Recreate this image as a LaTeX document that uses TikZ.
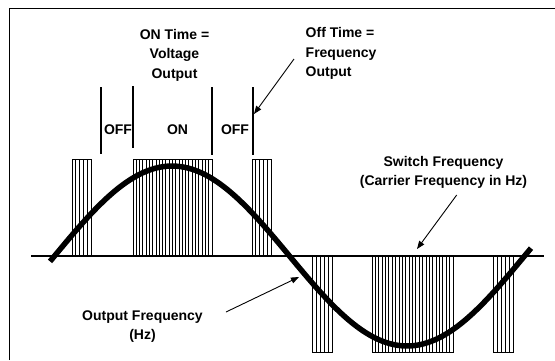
\documentclass[tikz,border=0pt]{standalone}
\usepackage{fontspec}
\setmainfont{Liberation Sans}
\usetikzlibrary{arrows.meta}
\newcommand{\pwmblock}[4]{%
  \draw[pulse] (#1,256) rectangle (#2,#3);
  \pgfmathsetmacro\pwmdx{(#2-#1)/#4}
  \foreach \i in {1,...,#4}{\draw[pulse] ({#1+\i*\pwmdx},256) -- ({#1+\i*\pwmdx},#3);}
}
\begin{document}
\begin{tikzpicture}[x=1pt,y=-1pt,
  lbl/.style={font=\fontsize{14}{19.5}\selectfont\bfseries, inner sep=0pt},
  arr/.style={-{Triangle[length=8pt,width=6pt]}, line width=0.9pt},
  pulse/.style={line width=1pt},
  marker/.style={line width=1.6pt},
  sine/.style={line width=5.5pt}]
\useasboundingbox (0,0) rectangle (555,360);
\fill[white] (0,0) rectangle (555,360);
% frame
\draw[line width=1.8pt] (9.5,360) -- (9.5,8.5) -- (555,8.5);
% baseline
\draw[line width=1.2pt] (31,256) -- (544,256);
% pulse blocks
\pwmblock{72}{91}{159}{5}
\pwmblock{133}{212}{159}{24}
\pwmblock{252}{271}{159}{5}
\pwmblock{312}{332}{352}{5}
\pwmblock{372}{453}{352}{24}
\pwmblock{493}{513}{352}{5}
% sine
\draw[sine] plot[domain=50:531, samples=120, smooth] (\x, {256-90*sin((\x-54.5)/235*180)});
% markers
\draw[marker] (100.7,87) -- (100.7,154);
\draw[marker] (132.7,86) -- (132.7,148);
\draw[marker] (212,87) -- (212,155);
\draw[marker] (252.7,87) -- (252.7,155);
% labels
\node[lbl, align=center, anchor=north] (ontime) at (174.5,29) {ON Time =\\Voltage\\Output};
\node[lbl, align=left, anchor=north west] (offtime) at (305.5,27.5) {Off Time =\\Frequency\\Output};
\node[lbl, align=center, anchor=north] (switch) at (443.5,156) {Switch Frequency\\(Carrier Frequency in Hz)};
\node[lbl, align=center, anchor=north] (outf) at (142.5,310.5) {Output Frequency\\(Hz)};
\node[lbl, anchor=base] (off1) at (118,134) {OFF};
\node[lbl, anchor=base] (on) at (177.5,134) {ON};
\node[lbl, anchor=base] (off2) at (235,134) {OFF};
% arrows
\coordinate (offtail) at (294,59);
\coordinate (offhead) at (254,114);
\coordinate (swtail) at (456.7,195);
\coordinate (swhead) at (417,249);
\coordinate (oftail) at (226,312);
\coordinate (ofhead) at (299,277);
\draw[arr] (offtail) -- (offhead);
\draw[arr] (swtail) -- (swhead);
\draw[arr] (oftail) -- (ofhead);
\end{tikzpicture}
\end{document}
